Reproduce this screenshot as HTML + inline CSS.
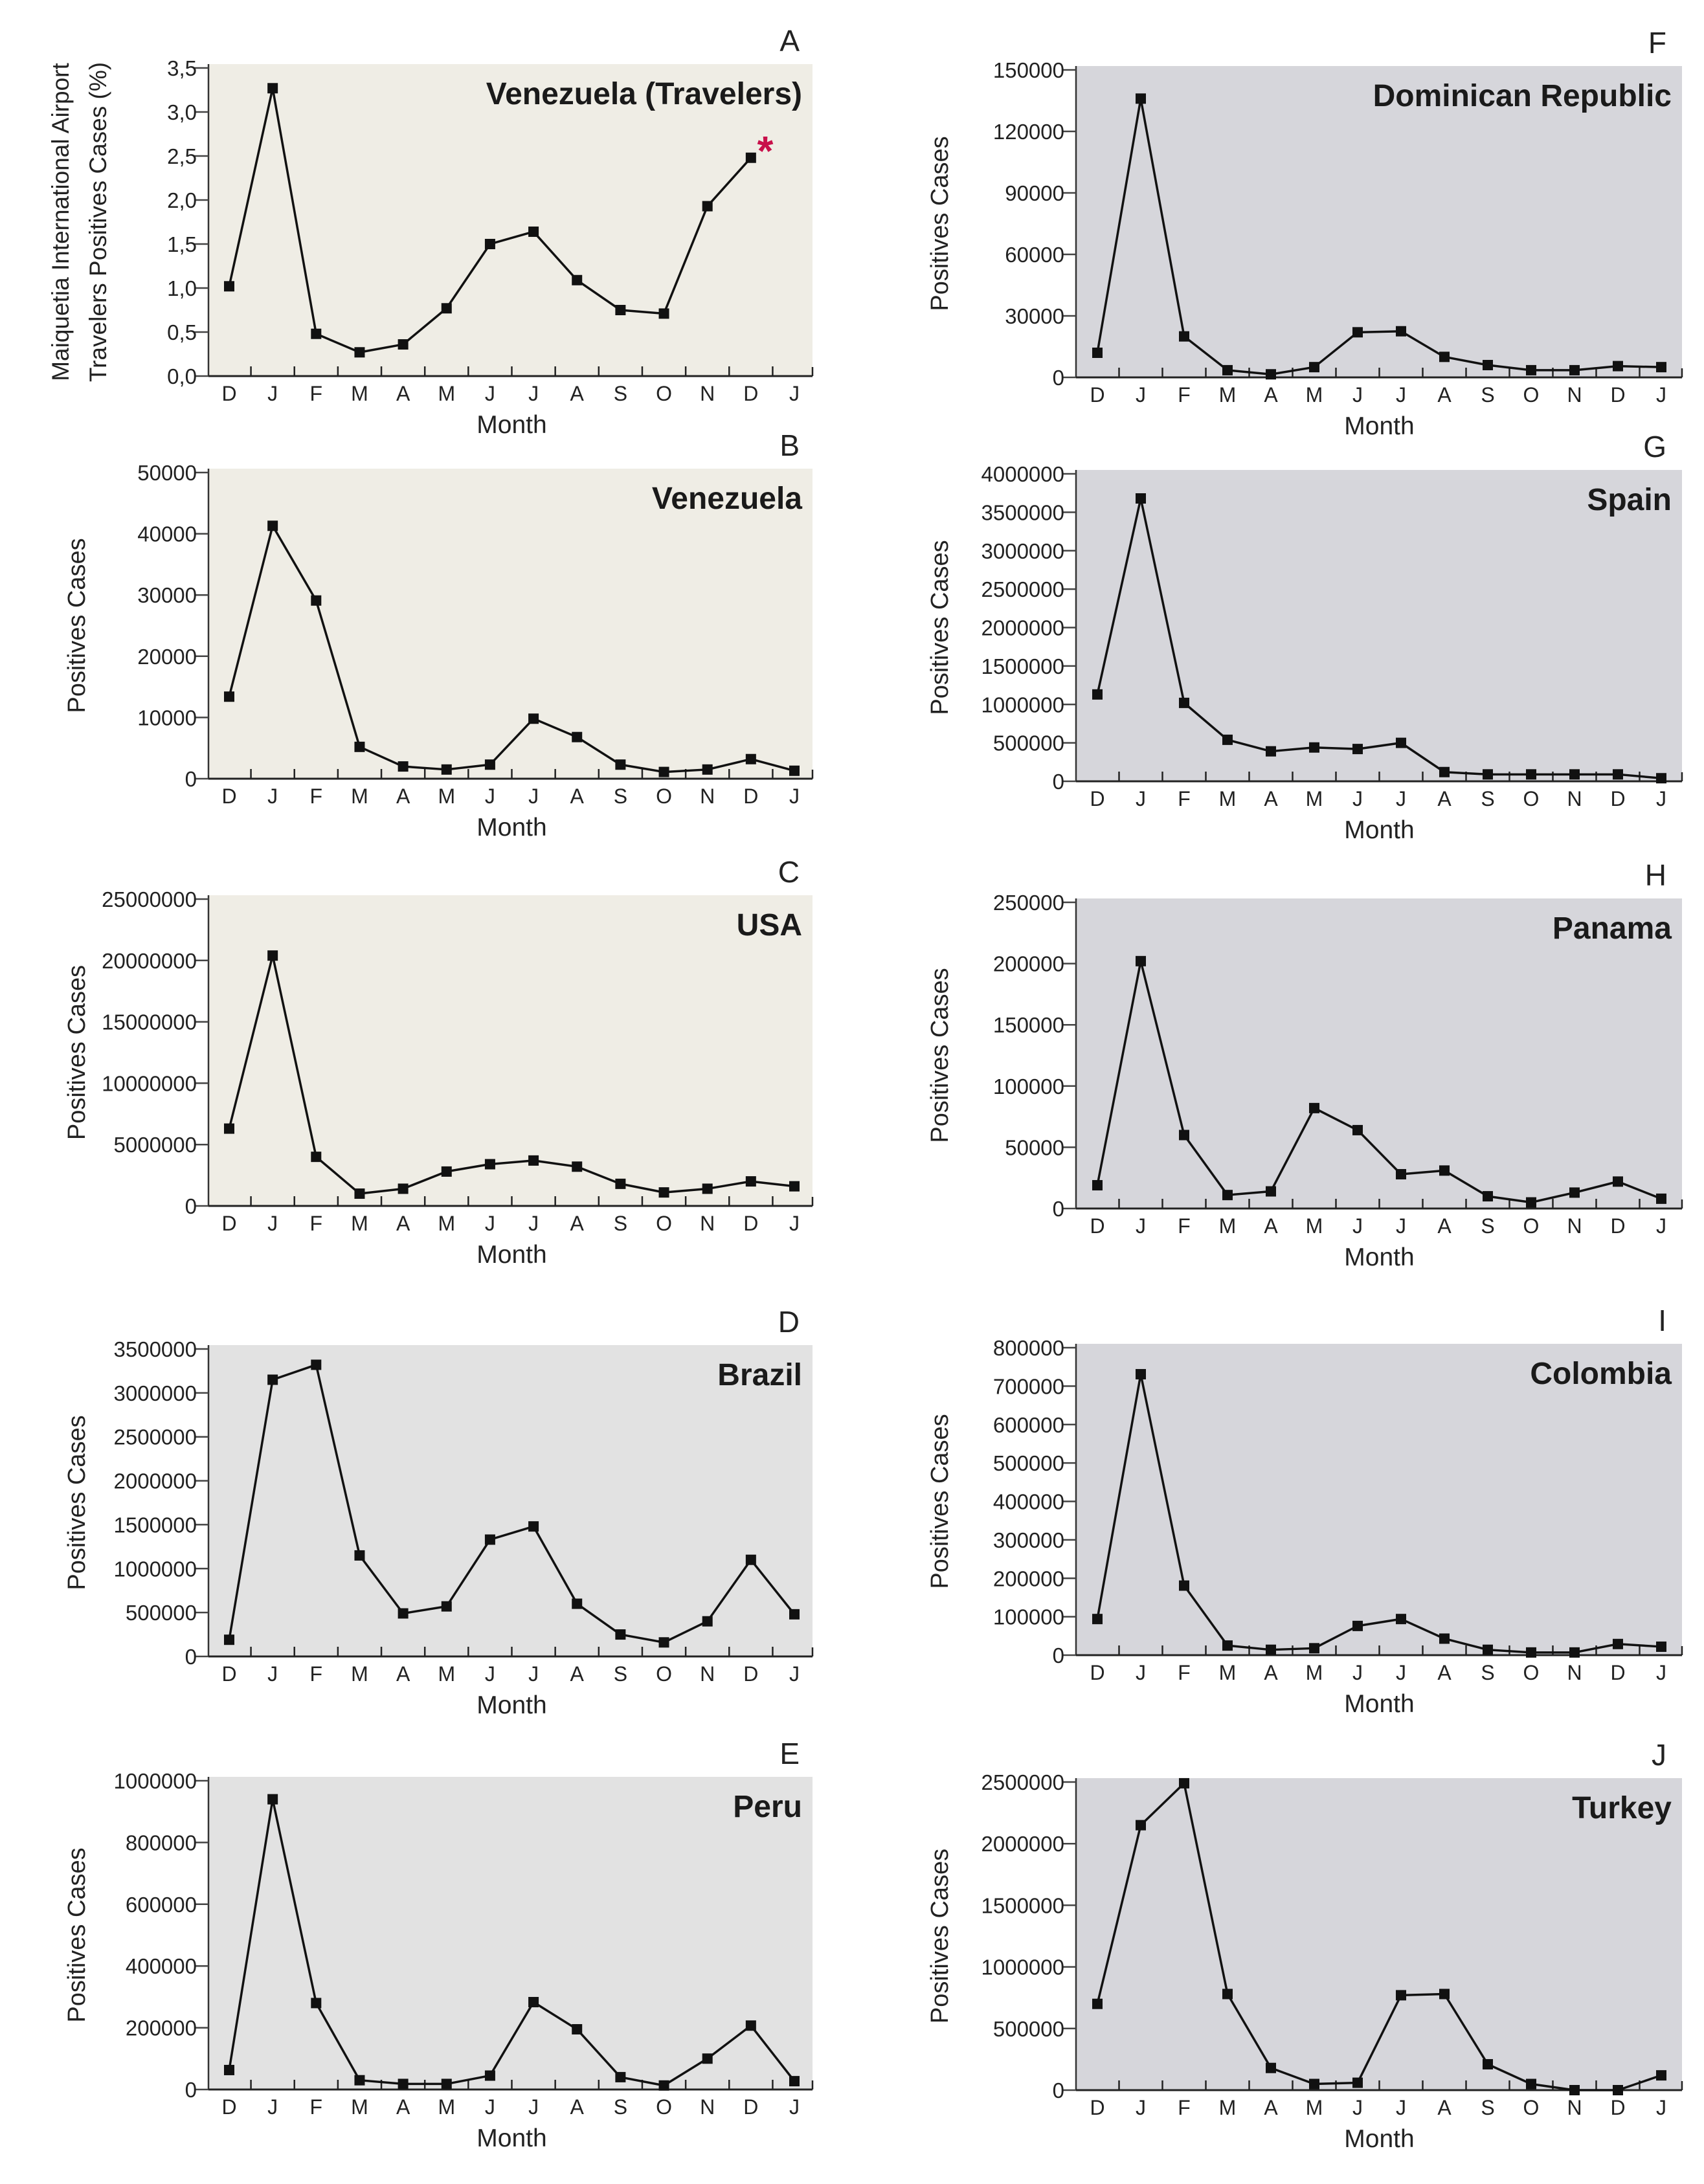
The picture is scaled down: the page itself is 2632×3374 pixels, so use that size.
<!DOCTYPE html>
<html><head><meta charset="utf-8"><style>
html,body{margin:0;padding:0;background:#fff;}
svg{display:block;}
text{font-family:"Liberation Sans Narrow","Liberation Sans",sans-serif;}
</style></head>
<body>
<svg id="fig" width="2632" height="3374" viewBox="0 0 2632 3374" xmlns="http://www.w3.org/2000/svg"></svg>
<script>
const months = ["D","J","F","M","A","M","J","J","A","S","O","N","D","J"];
const valsA = [1.02,3.27,0.48,0.27,0.36,0.77,1.5,1.64,1.09,0.75,0.71,1.93,2.48];
const valsB = [13400,41300,29100,5200,2000,1500,2300,9800,6800,2300,1100,1500,3200,1300];
const valsC = [6300000,20400000,4000000,1000000,1400000,2800000,3400000,3700000,3200000,1800000,1100000,1400000,2000000,1600000];
const valsD = [190000,3150000,3320000,1150000,490000,570000,1330000,1480000,600000,250000,160000,400000,1100000,480000];
const valsE = [63000,940000,280000,30000,18000,18000,45000,283000,195000,40000,13000,100000,207000,27000];
const valsF = [12000,136000,20000,3500,1500,5000,22000,22500,10000,6000,3500,3500,5500,5000];
const valsG = [1130000,3680000,1020000,540000,390000,440000,420000,500000,120000,90000,90000,90000,90000,40000];
const valsH = [19000,202000,60000,11000,14000,82000,64000,28000,31000,10000,5000,13000,22000,8000];
const valsI = [94000,731000,181000,25000,14000,18000,76000,94000,43000,14000,7000,7000,29000,22000];
const valsJ = [700000,2150000,2490000,780000,180000,50000,60000,770000,780000,210000,50000,0,0,120000];
const ticksA = ["0,0","0,5","1,0","1,5","2,0","2,5","3,0","3,5"];
const ticksB = ["0","10000","20000","30000","40000","50000"];
const ticksC = ["0","5000000","10000000","15000000","20000000","25000000"];
const ticksD = ["0","500000","1000000","1500000","2000000","2500000","3000000","3500000"];
const ticksE = ["0","200000","400000","600000","800000","1000000"];
const ticksF = ["0","30000","60000","90000","120000","150000"];
const ticksG = ["0","500000","1000000","1500000","2000000","2500000","3000000","3500000","4000000"];
const ticksH = ["0","50000","100000","150000","200000","250000"];
const ticksI = ["0","100000","200000","300000","400000","500000","600000","700000","800000"];
const ticksJ = ["0","500000","1000000","1500000","2000000","2500000"];
const maxA=3.5,maxB=50000,maxC=25000000,maxD=3500000,maxE=1000000,maxF=150000,maxG=4000000,maxH=250000,maxI=800000,maxJ=2500000;

const NS="http://www.w3.org/2000/svg";
const svg=document.getElementById('fig');
function el(tag,attrs,parent,txt){const e=document.createElementNS(NS,tag);for(const k in attrs)e.setAttribute(k,attrs[k]);if(txt!==undefined)e.textContent=txt;(parent||svg).appendChild(e);return e;}

const panels=[
 {id:"a",letter:"A",title:"Venezuela (Travelers)",vals:valsA,ticks:ticksA,max:maxA,col:0,top:105,zero:581,bg:"#efede5"},
 {id:"b",letter:"B",title:"Venezuela",vals:valsB,ticks:ticksB,max:maxB,col:0,top:730,zero:1203,bg:"#efede5"},
 {id:"c",letter:"C",title:"USA",vals:valsC,ticks:ticksC,max:maxC,col:0,top:1389,zero:1863,bg:"#efede5"},
 {id:"d",letter:"D",title:"Brazil",vals:valsD,ticks:ticksD,max:maxD,col:0,top:2084,zero:2559,bg:"#e2e2e2"},
 {id:"e",letter:"E",title:"Peru",vals:valsE,ticks:ticksE,max:maxE,col:0,top:2751,zero:3228,bg:"#e2e2e2"},
 {id:"f",letter:"F",title:"Dominican Republic",vals:valsF,ticks:ticksF,max:maxF,col:1,top:108,zero:583,bg:"#d6d6db"},
 {id:"g",letter:"G",title:"Spain",vals:valsG,ticks:ticksG,max:maxG,col:1,top:732,zero:1207,bg:"#d6d6db"},
 {id:"h",letter:"H",title:"Panama",vals:valsH,ticks:ticksH,max:maxH,col:1,top:1394,zero:1867,bg:"#d6d6db"},
 {id:"i",letter:"I",title:"Colombia",vals:valsI,ticks:ticksI,max:maxI,col:1,top:2082,zero:2557,bg:"#d6d6db"},
 {id:"j",letter:"J",title:"Turkey",vals:valsJ,ticks:ticksJ,max:maxJ,col:1,top:2753,zero:3229,bg:"#d6d6db"}
];
const cols=[{ax:322,right:1255,x0:354,x1:1227,ytl:118},{ax:1662,right:2598,x0:1695,x1:2566,ytl:1451}];

panels.forEach(p=>{
 const c=cols[p.col];
 const g=el('g',{});
 
 
 const step=(c.x1-c.x0)/(months.length-1);
 const xs=i=>c.x0+i*step;
 const ys=v=>p.zero-(v/p.max)*(p.zero-p.top);
 const bg=el('rect',{x:c.ax,y:p.top-6,width:c.right-c.ax,height:p.zero-p.top+6,fill:p.bg},g);
 
 
 const ya=el('line',{x1:c.ax,y1:p.top-6,x2:c.ax,y2:p.zero,stroke:"#333","stroke-width":2.5},g);
 
 
 const xa=el('line',{x1:c.ax,y1:p.zero,x2:c.right,y2:p.zero,stroke:"#222","stroke-width":3},g);
 
 
 el('line',{x1:c.right,y1:p.zero,x2:c.right,y2:p.zero-14,stroke:"#222","stroke-width":2.5},g);
 p.ticks.forEach((t,i)=>{
  const v=i*p.max/(p.ticks.length-1);
  const y=ys(v);
  el('line',{x1:c.ax-22,y1:y,x2:c.ax,y2:y,stroke:"#444","stroke-width":2.5},g);
  const tl=el('text',{x:c.ax-18,y:y+12,"font-size":33,"text-anchor":"end",fill:"#222"},g,t);
  
  
 });
 for(let i=0;i<months.length-1;i++){
  const x=xs(i)+step/2;
  el('line',{x1:x,y1:p.zero,x2:x,y2:p.zero-15,stroke:"#222","stroke-width":2.5},g);
 }
 months.forEach((m,i)=>{
  const t=el('text',{x:xs(i),y:p.zero+38,"font-size":32,"text-anchor":"middle",fill:"#222"},g,m);
  
  
 });
 const xt=el('text',{x:(c.x0+c.x1)/2,y:p.zero+88,"font-size":39,"text-anchor":"middle",fill:"#222"},g,"Month");
 
 
 const my=(p.top+p.zero)/2;
 if(p.id==="a"){
  const t1=el('text',{x:0,y:0,"font-size":37,"text-anchor":"middle",fill:"#222",transform:`translate(106,${my}) rotate(-90)`},g,"Maiquetia International Airport");
  
  
  el('text',{x:0,y:0,"font-size":37,"text-anchor":"middle",fill:"#222",transform:`translate(164,${my}) rotate(-90)`},g,"Travelers Positives Cases (%)");
 } else {
  const t1=el('text',{x:0,y:0,"font-size":38,"text-anchor":"middle",fill:"#222",transform:`translate(${c.ytl+13},${my}) rotate(-90)`},g,"Positives Cases");
  
  
 }
 const lt=el('text',{x:c.x1+8,y:p.top-26,"font-size":46,"text-anchor":"end",fill:"#222"},g,p.letter);
 
 
 const tt=el('text',{x:c.right-16,y:p.top+56,"font-size":48,"font-weight":"bold","text-anchor":"end",fill:"#1a1a1a"},g,p.title);
 
 
 const pts=p.vals.map((v,i)=>xs(i)+","+ys(v)).join(" ");
 const ln=el('polyline',{points:pts,fill:"none",stroke:"#111","stroke-width":3.5,"stroke-linejoin":"round"},g);
 
 
 p.vals.forEach((v,i)=>{
  const r=el('rect',{x:xs(i)-8,y:ys(v)-8,width:16,height:16,fill:"#111"},g);
  
  
 });
 if(p.id==="a"){
  const s=el('text',{x:1182,y:255,"font-size":64,"font-weight":"bold","text-anchor":"middle",fill:"#c8104a"},g,"*");
  
  
 }
});
</script>
</body></html>
